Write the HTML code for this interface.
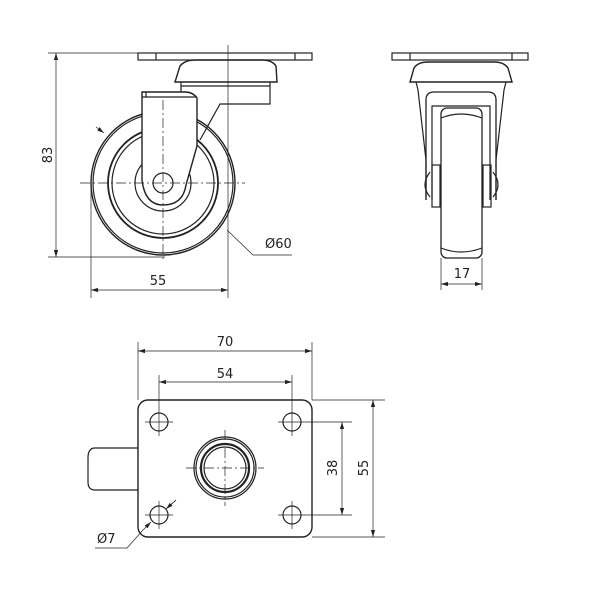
<!DOCTYPE html>
<html><head><style>body{margin:0;background:#fff}svg{display:block}text{font-family:"DejaVu Sans","Liberation Sans",sans-serif;font-size:13px;fill:#222}</style></head><body>
<svg width="600" height="600" viewBox="0 0 600 600" fill="none" stroke="#222" stroke-width="1.2">
<defs><marker id="a" viewBox="0 0 10 6" refX="10" refY="3" markerWidth="10" markerHeight="6" orient="auto-start-reverse"><path d="M0,0L10,3L0,6z" fill="#222" stroke="none"/></marker></defs>
<!-- side view -->
<rect x="138" y="53" width="174" height="7"/>
<line x1="156" y1="53" x2="156" y2="60"/><line x1="295" y1="53" x2="295" y2="60"/>
<path d="M175,82 L180,66 Q185,60 195,60 L262,60 Q272,60 276,66 L277,82 Z" stroke-width="1.4"/>
<path d="M181,82 L181,86 L270,86 L270,82"/>
<path d="M181,86 L181,100 M270,86 L270,104 L220,104 L200,140"/>
<circle cx="163" cy="183" r="72" stroke-width="1.4"/>
<circle cx="163" cy="183" r="70"/>
<circle cx="163" cy="183" r="55" stroke-width="1.8"/>
<circle cx="163" cy="183" r="51"/>
<circle cx="163" cy="183" r="28"/>
<circle cx="163" cy="183" r="10"/>
<path d="M142,92 L142,180 Q145,205 163,205 Q183,205 186,185 L197,146 L197,98 Q193,92 185,92 Z" fill="#fff" stroke-width="1.4"/>
<path d="M142,97 L197,97 M146,92 L146,97"/>
<circle cx="163" cy="183" r="10" fill="#fff"/>
<g stroke-dasharray="10,3,2,3" stroke-width="0.7"><line x1="80" y1="183" x2="245" y2="183"/><line x1="163" y1="100" x2="163" y2="262"/></g>
<line x1="228" y1="45" x2="228" y2="298" stroke-width="0.7"/>
<line x1="48" y1="53" x2="138" y2="53" stroke-width="0.7"/><line x1="48" y1="257" x2="165" y2="257" stroke-width="0.7"/>
<line x1="56" y1="53" x2="56" y2="257" stroke-width="0.7" marker-start="url(#a)" marker-end="url(#a)"/>
<text x="52" y="155" transform="rotate(-90 52 155)" text-anchor="middle" stroke="none">83</text>
<line x1="91" y1="190" x2="91" y2="298" stroke-width="0.7"/>
<line x1="91" y1="290" x2="228" y2="290" stroke-width="0.7" marker-start="url(#a)" marker-end="url(#a)"/>
<text x="158" y="285" text-anchor="middle" stroke="none">55</text>
<path d="M96,127 L104,133" stroke-width="0.7" marker-end="url(#a)"/>
<path d="M253,255 L227,230 M253,255 L292,255" stroke-width="0.7"/>
<text x="265" y="248" stroke="none">Ø60</text>
<!-- front view -->
<rect x="392" y="53" width="136" height="7"/>
<line x1="410" y1="53" x2="410" y2="60"/><line x1="512" y1="53" x2="512" y2="60"/>
<path d="M410,82 L414,68 Q418,62 428,62 L494,62 Q504,62 508,68 L512,82 Z" stroke-width="1.4"/>
<path d="M416,82 L418,90 L426,160 L426,200 M506,82 L504,90 L496,160 L496,200"/>
<path d="M426,200 L426,100 Q426,92 434,92 L488,92 Q496,92 496,100 L496,200" stroke-width="1.3"/>
<path d="M432,200 L432,106 L490,106 L490,200"/>
<rect x="441" y="108" width="41" height="150" rx="6" fill="#fff" stroke-width="1.3"/>
<path d="M441,118 Q461,110 482,118 M441,248 Q461,256 482,248"/>
<rect x="432" y="165" width="8" height="42"/><rect x="483" y="165" width="8" height="42"/>
<path d="M430,172 Q420,185 430,197 M493,172 Q503,185 493,197"/>
<line x1="441" y1="258" x2="441" y2="290" stroke-width="0.7"/><line x1="482" y1="258" x2="482" y2="290" stroke-width="0.7"/>
<line x1="441" y1="284" x2="482" y2="284" stroke-width="0.7" marker-start="url(#a)" marker-end="url(#a)"/>
<text x="462" y="278" text-anchor="middle" stroke="none">17</text>
<!-- bottom view -->
<rect x="138" y="400" width="174" height="137" rx="10" stroke-width="1.4"/>
<path d="M138,448 L95,448 Q88,448 88,458 L88,482 Q88,490 95,490 L138,490"/>
<g><circle cx="159" cy="422" r="9"/><circle cx="292" cy="422" r="9"/><circle cx="159" cy="515" r="9"/><circle cx="292" cy="515" r="9"/></g>
<g stroke-width="0.7"><path d="M145,422h28M159,408v28M278,422h28M292,408v28M145,515h28M159,501v28M278,515h28M292,501v28"/></g>
<circle cx="225" cy="468" r="31"/><circle cx="225" cy="468" r="29"/><circle cx="225" cy="468" r="24" stroke-width="2.2"/><circle cx="225" cy="468" r="21"/>
<g stroke-dasharray="10,3,2,3" stroke-width="0.7"><line x1="186" y1="468" x2="264" y2="468"/><line x1="225" y1="430" x2="225" y2="506"/></g>
<g stroke-width="0.7">
<line x1="138" y1="342" x2="138" y2="400"/><line x1="312" y1="342" x2="312" y2="400"/>
<line x1="138" y1="351" x2="312" y2="351" marker-start="url(#a)" marker-end="url(#a)"/>
<line x1="159" y1="375" x2="159" y2="408"/><line x1="292" y1="375" x2="292" y2="408"/>
<line x1="159" y1="382" x2="292" y2="382" marker-start="url(#a)" marker-end="url(#a)"/>
<line x1="306" y1="422" x2="352" y2="422"/><line x1="306" y1="515" x2="352" y2="515"/>
<line x1="342" y1="422" x2="342" y2="515" marker-start="url(#a)" marker-end="url(#a)"/>
<line x1="312" y1="400" x2="385" y2="400"/><line x1="312" y1="537" x2="385" y2="537"/>
<line x1="373" y1="400" x2="373" y2="537" marker-start="url(#a)" marker-end="url(#a)"/>
<path d="M176,500 L167,508 M143,530 L127,548 L95,548"/>
<path d="M176,500 L166,509" marker-end="url(#a)"/><path d="M143,530 L151,522" marker-end="url(#a)"/>
</g>
<text x="225" y="346" text-anchor="middle" stroke="none">70</text>
<text x="225" y="378" text-anchor="middle" stroke="none">54</text>
<text x="337" y="468" transform="rotate(-90 337 468)" text-anchor="middle" stroke="none">38</text>
<text x="368" y="468" transform="rotate(-90 368 468)" text-anchor="middle" stroke="none">55</text>
<text x="97" y="543" stroke="none">Ø7</text>
</svg>
</body></html>
